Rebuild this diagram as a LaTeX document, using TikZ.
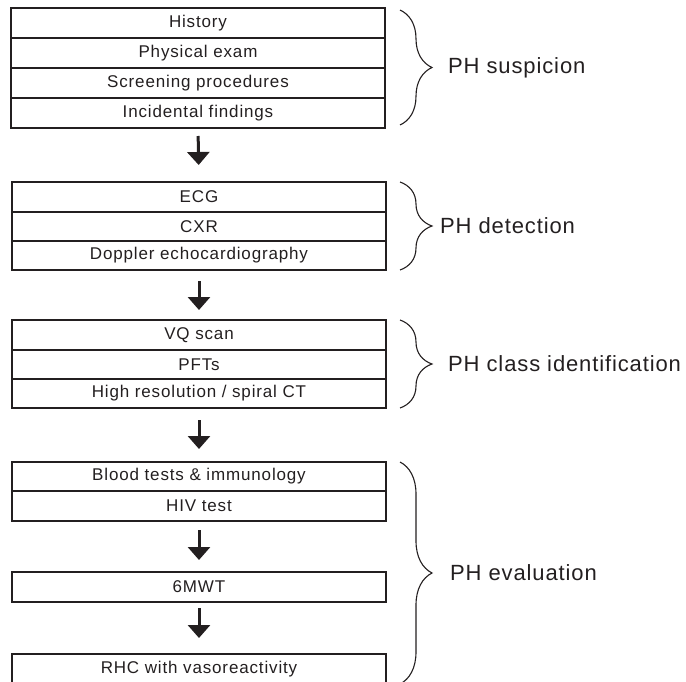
\documentclass[tikz,border=0pt]{standalone}
\usepackage{fontspec}
\setmainfont{Liberation Sans}
\newfontfamily\boxfont[LetterSpace=5]{Liberation Sans}
\newfontfamily\labfont[LetterSpace=4]{Liberation Sans}
\usetikzlibrary{arrows.meta,decorations.pathreplacing,calc}
\definecolor{ink}{HTML}{231F20}
\tikzset{
  row/.style={draw=ink, line width=1.1pt, minimum width=374pt, minimum height=30pt,
    inner sep=0pt, outer sep=0pt, anchor=north west, text=ink, font=\boxfont\fontsize{17}{19}\selectfont},
  bigarrow/.style={draw=ink, line width=3pt, -{Triangle[width=22pt,length=13pt]}},
  bracestyle/.style={draw=ink, line width=1.1pt, decorate, decoration={brace, amplitude=32pt}},
  lab/.style={anchor=west, inner sep=0pt, text=ink, font=\labfont\fontsize{22}{24}\selectfont}
}
\begin{document}
\begin{tikzpicture}[x=1pt,y=-1pt]
\useasboundingbox (0,0) rectangle (686,682);
% group 1
\node[row] (s1) at (11,8) {History};
\node[row] (s2) at (11,38) {Physical exam};
\node[row] (s3) at (11,68) {Screening procedures};
\node[row] (s4) at (11,98) {Incidental findings};
% group 2
\node[row, minimum height=30pt] (d1) at (12,182) {ECG};
\node[row, minimum height=29pt] (d2) at (12,212) {CXR};
\node[row, minimum height=29pt] (d3) at (12,241) {Doppler echocardiography};
% group 3
\node[row, minimum height=30pt] (c1) at (12,320) {VQ scan};
\node[row, minimum height=29pt] (c2) at (12,350) {PFTs};
\node[row, minimum height=29pt] (c3) at (12,379) {High resolution / spiral CT};
% group 4
\node[row, minimum height=29pt] (e1) at (12,462) {Blood tests \& immunology};
\node[row, minimum height=30pt] (e2) at (12,491) {HIV test};
\node[row] (e3) at (12,572) {6MWT};
\node[row, minimum height=36pt] (e4) at (12,654) {};
\node[anchor=center, inner sep=0pt, text=ink, font=\boxfont\fontsize{17}{19}\selectfont] (e4t) at (199,669) {RHC with vasoreactivity};
% arrows
\draw[bigarrow, shorten <=8pt, shorten >=17pt] (s4.south) -- (d1.north);
\draw[bigarrow, shorten <=11pt, shorten >=10pt] (d3.south) -- (c1.north);
\draw[bigarrow, shorten <=12pt, shorten >=13pt] (c3.south) -- (e1.north);
\draw[bigarrow, shorten <=9pt, shorten >=12pt] (e2.south) -- (e3.north);
\draw[bigarrow, shorten <=6pt, shorten >=16pt] (e3.south) -- (e4.north);
% braces
\draw[bracestyle] (400,10) -- (400,125);
\draw[bracestyle] (400,182) -- (400,270);
\draw[bracestyle] (400,320) -- (400,408);
\draw[bracestyle] (400,462) -- (400,684);
% labels
\node[lab] (l1) at (448,67.5) {PH suspicion};
\node[lab] (l2) at (440,226) {PH detection};
\node[lab] (l3) at (448,364) {PH class identification};
\node[lab] (l4) at (450,573) {PH evaluation};
\end{tikzpicture}
\end{document}
